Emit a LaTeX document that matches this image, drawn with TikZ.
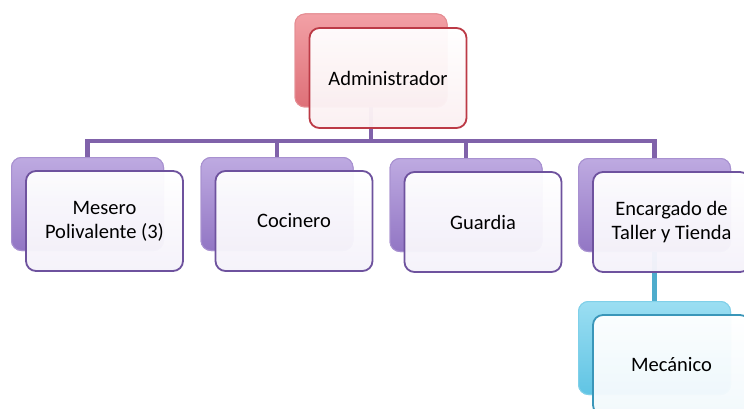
\documentclass[tikz,border=0pt]{standalone}
\usepackage{fontspec}
\setmainfont{Carlito}
\definecolor{redEdge}{RGB}{188,58,70}
\definecolor{redBack}{RGB}{222,112,120}
\definecolor{redBackLight}{RGB}{242,160,165}
\definecolor{redFill}{RGB}{251,240,242}
\definecolor{purEdge}{RGB}{110,82,158}
\definecolor{purBack}{RGB}{146,118,196}
\definecolor{purBackLight}{RGB}{190,170,225}
\definecolor{purFill}{RGB}{245,242,250}
\definecolor{purLine}{RGB}{128,98,170}
\definecolor{tealEdge}{RGB}{58,150,185}
\definecolor{tealBack}{RGB}{96,196,228}
\definecolor{tealBackLight}{RGB}{155,222,242}
\definecolor{tealFill}{RGB}{242,249,252}
\definecolor{tealLine}{RGB}{78,172,204}
\tikzset{
  card/.style={rounded corners=10pt, minimum width=157pt, minimum height=100pt,
    inner sep=0pt, align=center, font=\fontsize{20.5}{24}\selectfont,
    line width=1.8pt, fill opacity=0.96, text opacity=1},
  backcard/.style={rounded corners=10pt, minimum width=152pt, minimum height=93pt,
    inner sep=0pt},
  redcard/.style={card, draw=redEdge, top color=white, bottom color=redFill},
  purcard/.style={card, draw=purEdge, top color=white, bottom color=purFill},
  tealcard/.style={card, draw=tealEdge, top color=white, bottom color=tealFill},
  redback/.style={backcard, top color=redBackLight, bottom color=redBack, draw=redBack!80!white, line width=1pt},
  purback/.style={backcard, top color=purBackLight, bottom color=purBack, draw=purBack!80!white, line width=1pt},
  tealback/.style={backcard, top color=tealBackLight, bottom color=tealBack, draw=tealBack!80!white, line width=1pt},
  purlink/.style={draw=purLine, line width=4.5pt},
  teallink/.style={draw=tealLine, line width=4.5pt}
}
\begin{document}
\begin{tikzpicture}[x=1pt,y=-1pt]
  \useasboundingbox (0,0) rectangle (744,409);
  \clip (0,0) rectangle (744,409);
  \fill[white] (0,0) rectangle (744,409);

  % back plates
  \node[redback]  (adminB)     at (371,60.5) {};
  \node[purback]  (meseroB)    at (87.5,204) {};
  \node[purback]  (cocineroB)  at (277,204) {};
  \node[purback]  (guardiaB)   at (466,205) {};
  \node[purback]  (encargadoB) at (654.5,205) {};
  \node[tealback] (mecanicoB)  at (654.5,348) {};

  % connectors
  \coordinate (bus) at (0,141);
  \draw[purlink] (meseroB.center) |- (encargadoB.center |- bus) -- (encargadoB.center);
  \draw[purlink] (adminB.center) -- (adminB.center |- bus);
  \draw[purlink] (cocineroB.center) -- (cocineroB.center |- bus);
  \draw[purlink] (guardiaB.center) -- (guardiaB.center |- bus);
  \draw[teallink] (encargadoB.center) -- (mecanicoB.center);

  % back plates again, over the connectors
  \node[redback]  at (adminB) {};
  \node[purback]  at (meseroB) {};
  \node[purback]  at (cocineroB) {};
  \node[purback]  at (guardiaB) {};
  \node[purback]  at (encargadoB) {};
  \node[tealback] at (mecanicoB) {};

  % cards
  \node[redcard]  (admin)     at (388,78)    {Administrador};
  \node[purcard]  (mesero)    at (104.5,221) {Mesero\\Polivalente (3)};
  \node[purcard]  (cocinero)  at (294,221)   {Cocinero};
  \node[purcard]  (guardia)   at (483,222)   {Guardia};
  \node[purcard]  (encargado) at (671.5,222) {Encargado de\\Taller y Tienda};
  \node[tealcard] (mecanico)  at (671.5,365) {Mecánico};
\end{tikzpicture}
\end{document}
